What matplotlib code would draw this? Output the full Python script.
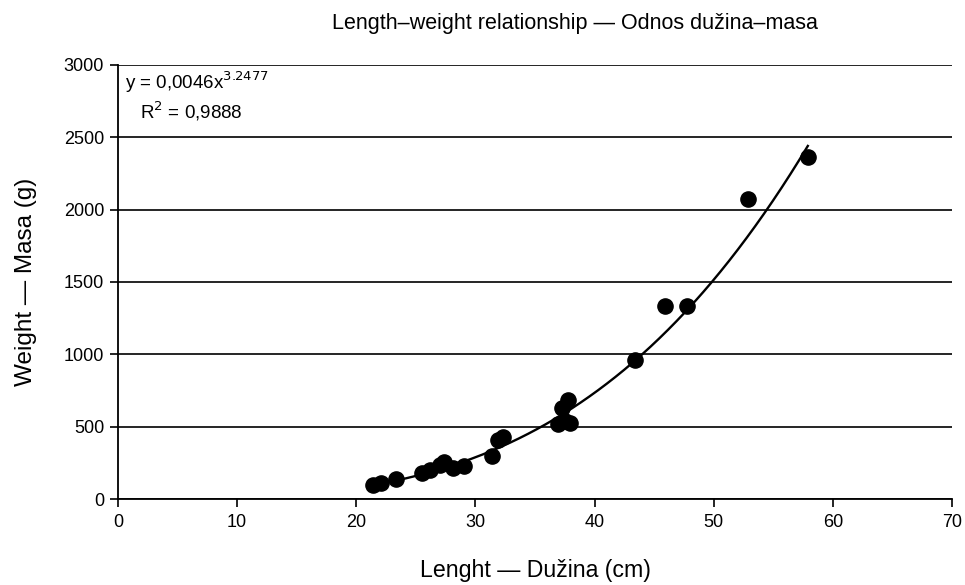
import numpy as np
import matplotlib.pyplot as plt

plt.rcParams['font.family'] = ['Liberation Sans', 'DejaVu Sans']

# length (cm) and weight (g)
length = [21.4, 22.1, 23.3, 25.5, 26.2, 27.0, 27.4, 28.1, 29.0, 31.4, 31.9, 32.3,
          36.9, 37.5, 37.9, 37.3, 37.8, 43.4, 45.9, 47.8, 52.9, 57.9]
weight = [95, 110, 140, 180, 200, 235, 255, 214, 228, 295, 405, 430,
          520, 540, 525, 630, 685, 960, 1335, 1335, 2070, 2365]

# power trend line as printed on the chart
a, b = 0.0046, 3.2477
xfit = np.linspace(min(length), max(length), 200)
yfit = a * xfit ** b

fig = plt.figure(figsize=(9.65, 5.85), dpi=100)
ax = fig.add_axes([0.1223, 0.147, 0.8642, 0.742])

ax.plot(xfit, yfit, c="k", linewidth=1.7, zorder=3)
ax.scatter(length, weight, s=120, c="k", zorder=4)

ax.set_xlim(0, 70)
ax.set_ylim(0, 3000)
ax.set_xticks(range(0, 71, 10))
ax.set_yticks(range(0, 3001, 500))
ax.yaxis.grid(True, color="k", linewidth=1.2)
ax.set_axisbelow(True)
for s in ["top", "right"]:
    ax.spines[s].set_visible(False)
ax.spines["left"].set_linewidth(1.3)
ax.spines["bottom"].set_linewidth(1.3)
ax.tick_params(labelsize=13, length=6, width=1.2)
ax.tick_params(axis="x", pad=5)
ax.tick_params(axis="y", pad=4)

ax.set_xlabel("Lenght — Dužina (cm)", fontsize=16.7, labelpad=20)
ax.set_ylabel("Weight — Masa (g)", fontsize=17.5, labelpad=19)
ax.set_title("Length–weight relationship — Odnos dužina–masa", fontsize=15.5,
             pad=26, x=0.548)

ax.text(0.008, 0.99, r"y = 0,0046x$^{3.2477}$", transform=ax.transAxes,
        fontsize=13.5, va="top")
ax.text(0.026, 0.92, r"R$^{2}$ = 0,9888", transform=ax.transAxes,
        fontsize=13.5, va="top")

fig.savefig("out.png", dpi=100)
